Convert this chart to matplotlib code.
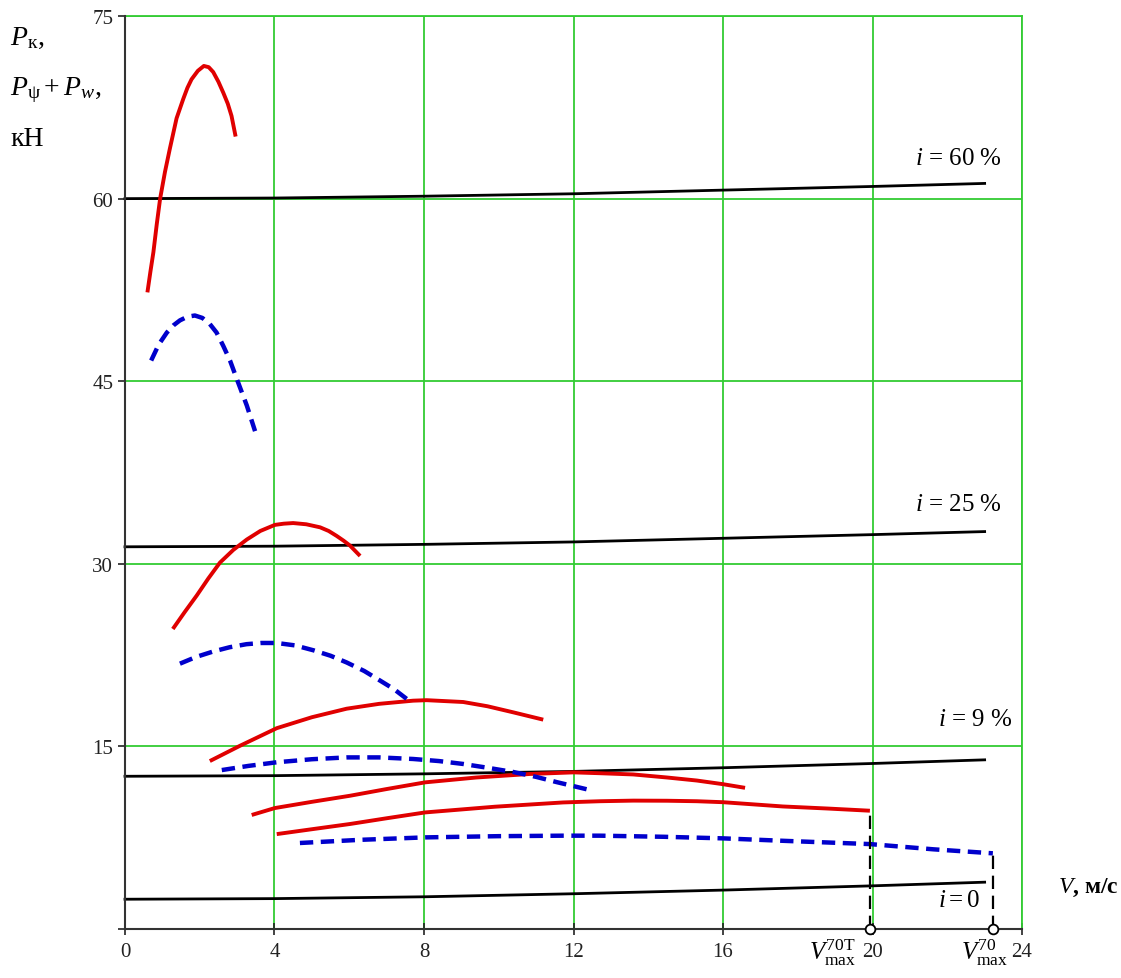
import matplotlib
matplotlib.use("Agg")
import matplotlib.pyplot as plt

plt.rcParams['font.family'] = ['Liberation Serif', 'DejaVu Serif']
plt.rcParams['mathtext.fontset'] = 'custom'
plt.rcParams['mathtext.rm'] = 'Liberation Serif'
plt.rcParams['mathtext.it'] = 'Liberation Serif:italic'
plt.rcParams['mathtext.bf'] = 'Liberation Serif:bold'

# ---- data (V in m/s, P in kN) ----
# resistance lines P_psi + P_w
res_V = [0, 4, 8, 12, 16, 20, 23]
res_i60 = [60.0, 60.05, 60.2, 60.4, 60.7, 61.0, 61.25]
res_i25 = [31.4, 31.45, 31.6, 31.8, 32.1, 32.4, 32.65]
res_i9 = [12.55, 12.6, 12.75, 12.95, 13.25, 13.6, 13.9]
res_i0 = [2.45, 2.5, 2.65, 2.9, 3.2, 3.55, 3.85]
res_labels = ["$i$ = 60 %", "$i$ = 25 %", "$i$ = 9 %", "$i = 0$"]

# traction force, solid red curves (gears 1..5)
r1_V = [0.60, 0.68, 0.76, 0.85, 0.94, 1.07, 1.20, 1.38, 1.56, 1.67, 1.78, 1.95,
        2.11, 2.24, 2.36, 2.50, 2.63, 2.75, 2.85, 2.96]
r1_P = [52.3, 54.0, 55.6, 57.9, 60.0, 62.2, 64.1, 66.6, 68.2, 69.1, 69.8, 70.5,
        70.9, 70.8, 70.4, 69.6, 68.7, 67.8, 66.8, 65.1]
r2_V = [1.28, 1.60, 1.92, 2.23, 2.54, 2.90, 3.26, 3.62, 4.01, 4.25, 4.50, 4.85,
        5.22, 5.45, 5.66, 5.85, 6.02, 6.29]
r2_P = [24.65, 26.05, 27.4, 28.8, 30.1, 31.15, 32.0, 32.7, 33.2, 33.3, 33.35, 33.25,
        33.0, 32.7, 32.3, 31.9, 31.5, 30.65]
r3_V = [2.27, 3.08, 4.06, 5.0, 5.93, 6.8, 7.71, 8.07, 9.05, 9.7, 10.39, 11.19]
r3_P = [13.8, 15.06, 16.5, 17.4, 18.1, 18.5, 18.76, 18.8, 18.65, 18.3, 17.8, 17.2]
r4_V = [3.39, 4.01, 5.0, 6.02, 7.0, 8.03, 9.4, 10.84, 12.0, 12.71, 13.6, 14.5, 15.3, 16.0, 16.59]
r4_P = [9.37, 9.94, 10.45, 10.95, 11.5, 12.05, 12.45, 12.74, 12.87, 12.8, 12.7, 12.45, 12.2, 11.9, 11.6]
r5_V = [4.06, 5.0, 6.02, 7.0, 8.03, 9.9, 11.72, 12.71, 13.6, 14.5, 15.3, 16.0, 17.6, 18.8, 19.93]
r5_P = [7.8, 8.2, 8.63, 9.1, 9.58, 10.05, 10.4, 10.5, 10.55, 10.54, 10.5, 10.42, 10.07, 9.9, 9.72]

# traction force, dashed blue curves
b1_V = [0.70, 0.90, 1.12, 1.30, 1.47, 1.67, 1.87, 2.07, 2.27, 2.45, 2.63, 2.81, 2.99, 3.26, 3.48]
b1_P = [46.7, 48.0, 49.0, 49.6, 50.0, 50.3, 50.4, 50.2, 49.7, 49.0, 47.9, 46.7, 45.2, 43.0, 40.9]
b2_V = [1.47, 1.9, 2.36, 2.8, 3.25, 3.65, 4.06, 4.55, 5.04, 5.5, 5.93, 6.4, 6.83, 7.2, 7.54]
b2_P = [21.8, 22.35, 22.8, 23.15, 23.4, 23.5, 23.5, 23.3, 22.9, 22.45, 21.9, 21.2, 20.4, 19.7, 18.9]
b3_V = [2.59, 3.3, 4.06, 5.0, 5.93, 6.8, 7.71, 8.4, 9.05, 9.7, 10.39, 11.0, 11.55, 12.52]
b3_P = [13.06, 13.4, 13.7, 13.95, 14.1, 14.1, 13.97, 13.8, 13.56, 13.25, 12.9, 12.5, 12.07, 11.36]
b4_V = [4.68, 6.3, 8.03, 10.0, 11.72, 12.71, 14.4, 16.0, 17.6, 19.93, 21.63, 23.22]
b4_P = [7.07, 7.33, 7.53, 7.63, 7.67, 7.67, 7.58, 7.45, 7.25, 6.98, 6.55, 6.22]

vmax_70T = 19.93
vmax_70 = 23.22
vmax_70T_P = 9.72
vmax_70_P = 6.22

x_ticks = [0, 4, 8, 12, 16, 20, 24]
y_ticks = [0, 15, 30, 45, 60, 75]
y_ticklabels = ["", "15", "30", "45", "60", "75"]

# ---- figure ----
fig = plt.figure(figsize=(11.21, 9.79), dpi=100)
ax = fig.add_axes([0.1115, 0.0500, 0.8002, 0.9326])
ax.set_xlim(0, 24)
ax.set_ylim(0, 75)

green = '#33cc33'
ax.set_xticks(x_ticks)
ax.set_yticks(y_ticks)
ax.set_yticklabels(y_ticklabels)
ax.grid(True, color=green, lw=1.3)
ax.set_axisbelow(True)
ax.axhline(75, color=green, lw=1.3, clip_on=False, zorder=1)
ax.axvline(24, color=green, lw=1.3, clip_on=False, zorder=1)
for s in ['top', 'right']:
    ax.spines[s].set_visible(False)
for s in ['left', 'bottom']:
    ax.spines[s].set_color('#333333')
    ax.spines[s].set_linewidth(1.5)
    ax.spines[s].set_zorder(6)
ax.tick_params(axis='both', labelsize=15, colors='#222222', length=5,
               width=1.2, direction='out')
ax.tick_params(axis='x', direction='inout', length=8, pad=5)

# resistance lines
for P in [res_i60, res_i25, res_i9, res_i0]:
    ax.plot(res_V, P, color='black', lw=2.0, zorder=3, clip_on=False)

# red solid traction curves
for V, P in [(r1_V, r1_P), (r2_V, r2_P), (r3_V, r3_P), (r4_V, r4_P), (r5_V, r5_P)]:
    ax.plot(V, P, color='#e00000', lw=2.8, zorder=4, solid_capstyle='butt',
            solid_joinstyle='round')

# blue dashed curves
for V, P in [(b1_V, b1_P), (b2_V, b2_P), (b3_V, b3_P), (b4_V, b4_P)]:
    ax.plot(V, P, color='#0000cc', lw=3.2, dashes=(3, 1.7), zorder=4)

# V max markers
ax.plot([vmax_70T, vmax_70T], [0, vmax_70T_P], color='black', lw=1.6,
        dashes=(6, 3), zorder=5)
ax.plot([vmax_70, vmax_70], [0, vmax_70_P], color='black', lw=1.6,
        dashes=(6, 3), zorder=5)
ax.plot([vmax_70T, vmax_70], [0, 0], 'o', ms=7, mfc='white', mec='black',
        mew=1.3, zorder=7, clip_on=False)

# resistance labels
ax.text(22.3, 63.3, res_labels[0], fontsize=18, ha='center', va='center', zorder=6)
ax.text(22.3, 34.9, res_labels[1], fontsize=18, ha='center', va='center', zorder=6)
ax.text(22.75, 17.25, res_labels[2], fontsize=18, ha='center', va='center', zorder=6)
ax.text(22.3, 2.4, res_labels[3], fontsize=18, ha='center', va='center', zorder=6)

# Vmax tick labels
fig.text(833 / 1121, 1 - 953 / 979, r"$V^{70\mathrm{T}}_{\max}$", fontsize=18,
         ha='center', va='center')
fig.text(985 / 1121, 1 - 953 / 979, r"$V^{70}_{\max}$", fontsize=18,
         ha='center', va='center')

# axis labels
fig.text(1058 / 1121, 1 - 888 / 979, r"$V$, м/с", fontsize=17, ha='left',
         va='center', fontweight='bold')
fig.text(10 / 1121, 1 - 38 / 979, r"$P_{\mathrm{к}}$,", fontsize=20,
         ha='left', va='center')
fig.text(10 / 1121, 1 - 90 / 979, r"$P_{\mathrm{ψ}} + P_{w}$,", fontsize=20,
         ha='left', va='center')
fig.text(10 / 1121, 1 - 140 / 979, "кН", fontsize=20, ha='left', va='center')

fig.savefig("out.png", dpi=100, facecolor='white')
